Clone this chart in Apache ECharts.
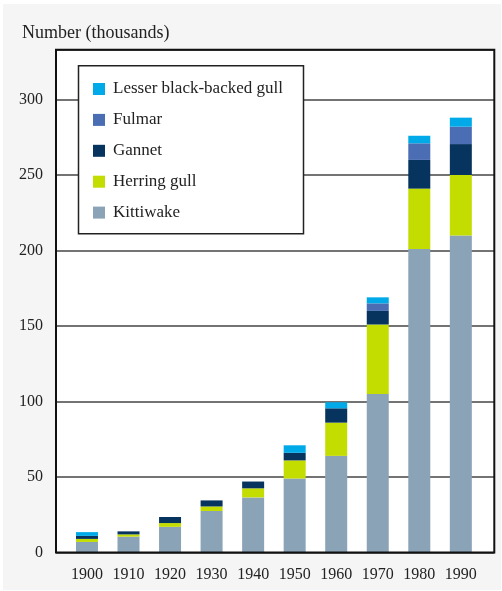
<!DOCTYPE html>
<html>
<head>
<meta charset="utf-8">
<script src="https://cdn.jsdelivr.net/npm/echarts@6/dist/echarts.min.js"></script>
<style>
  html, body { margin: 0; padding: 0; background: #fff; }
  #chart { width: 502px; height: 591px; }
</style>
</head>
<body>
<div id="chart"></div>
<script>
// decades on the x axis
const years = ['1900', '1910', '1920', '1930', '1940', '1950', '1960', '1970', '1980', '1990'];
// breeding seabirds, thousands (stack order bottom -> top)
const kittiwake = [7, 10.5, 17, 27.5, 36.5, 49, 64, 105, 201, 210];
const herringGull = [2, 1.5, 2.5, 3, 6, 12, 22, 46, 40, 40];
const gannet = [2, 2, 4, 4, 4.5, 5, 9.5, 9, 19, 20.5];
const fulmar = [0, 0, 0, 0, 0, 0, 0, 5, 11, 11.5];
const lesserBlackBacked = [2.5, 0, 0, 0, 0, 5, 4, 4, 5, 6];
const yTicks = [0, 50, 100, 150, 200, 250, 300];

const colors = {
  'Kittiwake': '#8ba3b6',
  'Herring gull': '#c3dd00',
  'Gannet': '#07345f',
  'Fulmar': '#4a6db3',
  'Lesser black-backed gull': '#00aae8'
};
const font = 'Liberation Serif';
const yMax = 333;

const chart = echarts.init(document.getElementById('chart'));

function bar(name, data) {
  return {
    name: name,
    type: 'bar',
    stack: 'birds',
    xAxisIndex: 1,
    yAxisIndex: 1,
    barWidth: 22,
    itemStyle: { color: colors[name] },
    data: data
  };
}

chart.setOption({
  animation: false,
  textStyle: { fontFamily: font },
  graphic: [
    { type: 'rect', z: -10, shape: { x: 3, y: 4, width: 498, height: 586 }, style: { fill: '#f4f5f4' } },
    { type: 'rect', z: -9, shape: { x: 56, y: 49.7, width: 438.3, height: 502.8 }, style: { fill: '#fff' } },
    { type: 'rect', z: 20, shape: { x: 56, y: 49.7, width: 438.3, height: 502.8 }, style: { fill: null, stroke: '#111', lineWidth: 2 } },
    { type: 'rect', z: 3, shape: { x: 78.5, y: 65.7, width: 225, height: 168 }, style: { fill: '#fff', stroke: '#222', lineWidth: 1.5 } },
    { type: 'text', z: 5, x: 22, y: 33, style: { text: 'Number (thousands)', fontFamily: font, fontSize: 18, fill: '#222', verticalAlign: 'middle' } }
  ],
  legend: {
    orient: 'vertical',
    left: 93,
    top: 80.5,
    padding: 0,
    itemWidth: 12,
    itemHeight: 12,
    itemGap: 13.9,
    icon: 'rect',
    z: 6,
    textStyle: { fontFamily: font, fontSize: 17, color: '#222', padding: [0, 0, 0, 3] },
    data: ['Lesser black-backed gull', 'Fulmar', 'Gannet', 'Herring gull', 'Kittiwake']
  },
  grid: [
    { left: 56, right: 7.7, top: 49.7, bottom: 38.5 },
    { left: 66.2, right: 20.4, top: 49.7, bottom: 38.5 }
  ],
  xAxis: [
    { type: 'category', gridIndex: 0, data: years, show: false },
    {
      type: 'category', gridIndex: 1, data: years,
      axisLine: { show: false }, axisTick: { show: false },
      axisLabel: { interval: 0, margin: 14, fontFamily: font, fontSize: 16, color: '#222' }
    }
  ],
  yAxis: [
    {
      type: 'value', gridIndex: 0, min: 0, max: yMax, interval: 50,
      axisLine: { show: false }, axisTick: { show: false },
      axisLabel: {
        margin: 13, fontFamily: font, fontSize: 16, color: '#222',
        formatter: v => (yTicks.indexOf(v) >= 0 ? String(v) : '')
      },
      splitLine: { lineStyle: { color: '#444', width: 1.5 } }
    },
    { type: 'value', gridIndex: 1, min: 0, max: yMax, interval: 50, show: false, splitLine: { show: false } }
  ],
  series: [
    bar('Kittiwake', kittiwake),
    bar('Herring gull', herringGull),
    bar('Gannet', gannet),
    bar('Fulmar', fulmar),
    bar('Lesser black-backed gull', lesserBlackBacked)
  ]
});
</script>
</body>
</html>
